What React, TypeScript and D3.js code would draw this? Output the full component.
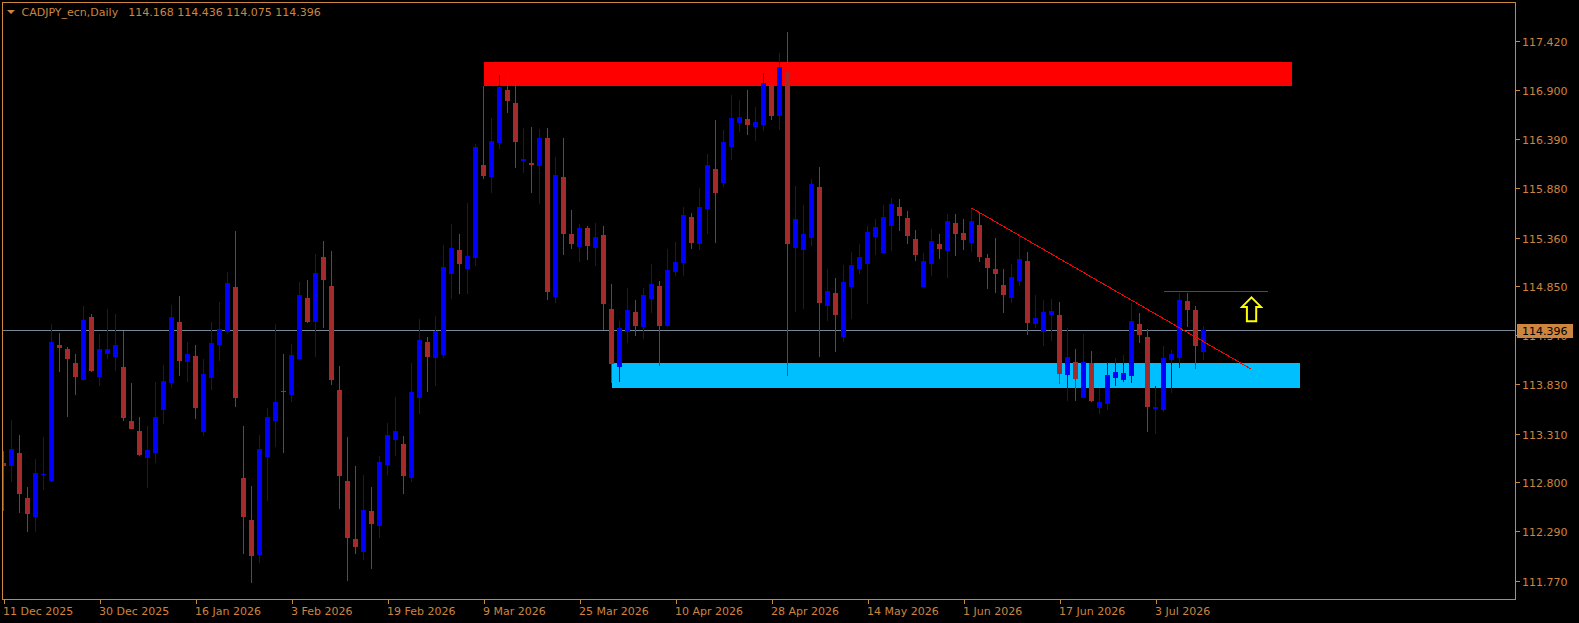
import React from "react";
import * as d3 from "d3";

// ---- data ----
const opens = [112.998,112.973,113.106,112.635,112.433,112.876,112.816,114.236,114.194,114.048,113.873,114.529,113.905,114.145,114.114,114.009,113.441,113.336,113.057,113.109,113.559,113.838,114.477,114.062,114.121,113.329,113.894,114.236,114.376,114.843,112.848,112.405,112.043,113.068,113.445,113.755,113.717,114.093,114.728,114.477,115.157,114.854,113.766,112.814,112.207,112.074,112.496,112.346,112.984,113.246,113.201,112.848,113.685,114.268,114.104,114.135,114.983,115.230,115.035,115.150,116.120,115.994,116.350,116.904,116.768,116.158,116.140,116.113,116.402,114.742,115.994,115.398,115.265,115.460,115.255,115.387,114.613,114.010,114.376,114.582,114.425,114.721,114.854,114.439,115.004,115.098,115.576,115.297,115.659,116.078,115.931,116.308,116.559,116.601,116.517,116.542,116.957,116.632,117.093,115.255,115.230,115.359,115.889,114.648,114.780,114.324,114.847,115.032,115.084,115.366,115.199,115.481,115.680,115.565,115.345,114.843,115.084,115.293,115.220,115.513,115.408,115.304,115.492,115.146,115.031,114.864,114.732,114.909,115.115,114.459,114.376,114.550,114.550,113.926,114.058,113.685,114.048,113.581,113.622,113.894,113.874,113.915,114.456,114.320,113.567,113.560,114.079,114.104,114.697,114.602,114.168];
const highs = [113.127,113.451,113.294,112.754,113.043,113.270,114.456,114.362,114.219,114.142,114.644,114.560,114.351,114.612,114.560,114.383,113.839,113.483,113.389,113.849,114.027,114.654,114.749,114.267,114.236,114.089,114.477,114.686,115.000,115.429,113.389,112.761,113.295,113.581,114.456,114.142,114.243,114.895,114.916,115.188,115.325,115.220,114.017,113.274,112.970,112.876,112.751,113.075,113.420,113.692,113.284,114.048,114.508,114.323,114.540,115.283,115.502,115.398,115.722,116.339,116.950,116.611,117.061,117.114,117.016,116.507,116.517,116.493,116.507,116.203,116.402,115.649,115.506,115.481,115.509,115.481,114.875,114.484,114.833,114.707,114.833,115.084,114.906,115.241,115.314,115.680,115.617,115.879,116.235,116.590,116.486,116.852,116.800,116.904,116.726,117.082,117.072,117.291,117.511,115.900,115.701,115.973,116.099,115.032,114.937,115.073,115.209,115.293,115.481,115.555,115.701,115.774,115.764,115.638,115.440,115.199,115.450,115.398,115.607,115.607,115.555,115.670,115.617,115.188,115.356,115.031,115.084,115.377,115.209,114.759,114.707,114.718,114.686,114.414,114.194,114.351,114.173,113.786,114.058,114.100,114.132,114.676,114.571,114.404,113.811,114.229,114.184,114.780,114.780,114.644,114.436];
const lows = [112.499,112.806,112.482,112.283,112.283,112.722,112.806,113.957,113.486,113.716,113.863,113.957,113.810,114.093,113.968,113.445,113.357,113.078,112.743,113.005,113.413,113.789,113.915,113.852,113.465,113.287,113.769,114.072,114.355,113.591,112.053,111.750,111.959,112.608,113.169,113.110,113.636,114.093,114.470,114.114,114.418,113.818,112.524,111.767,112.053,111.990,111.896,112.221,112.880,113.078,112.681,112.806,113.518,113.748,113.811,114.104,114.721,114.773,114.773,115.066,115.977,115.827,116.290,116.667,116.092,116.039,115.830,115.715,114.711,114.679,115.181,115.244,115.108,115.129,115.066,114.397,113.835,113.853,114.261,114.334,114.303,114.575,114.020,114.425,114.962,114.962,115.244,115.234,115.401,115.307,115.889,116.175,116.465,116.433,116.371,116.479,116.590,116.486,113.915,114.585,114.617,115.276,114.114,114.491,114.167,114.271,114.512,114.979,114.669,115.178,115.199,115.220,115.429,115.293,115.115,114.843,114.958,115.136,114.937,115.167,115.230,115.209,115.105,114.826,114.784,114.574,114.679,114.857,114.344,114.418,114.229,114.282,113.832,113.654,113.654,113.685,113.643,113.518,113.560,113.811,113.853,113.842,114.261,113.329,113.309,113.539,113.737,113.999,114.428,113.989,114.075];
const closes = [112.974,113.148,112.680,112.471,112.893,112.886,114.267,114.208,114.093,113.905,114.498,113.968,114.194,114.194,114.236,113.476,113.361,113.089,113.137,113.483,113.859,114.529,114.072,114.142,113.580,113.932,114.257,114.403,114.885,113.685,112.440,112.032,113.148,113.483,113.636,113.745,114.135,114.759,114.477,114.990,114.920,113.874,112.869,112.221,112.127,112.507,112.367,113.012,113.295,113.337,112.869,113.741,114.285,114.114,114.386,115.052,115.251,115.087,115.168,116.308,116.008,116.371,116.936,116.793,116.364,116.182,116.123,116.402,114.794,116.015,115.401,115.297,115.464,115.276,115.366,114.669,114.041,114.414,114.603,114.439,114.760,114.875,114.439,115.021,115.108,115.597,115.307,115.680,116.120,115.830,116.360,116.611,116.622,116.538,116.569,116.977,116.632,117.145,115.297,115.555,115.398,115.921,114.679,114.801,114.554,114.895,115.073,115.157,115.419,115.471,115.576,115.711,115.586,115.377,115.178,115.115,115.324,115.241,115.534,115.398,115.335,115.534,115.157,115.045,114.983,114.763,114.948,115.136,114.470,114.519,114.582,114.592,113.936,114.111,113.884,114.058,113.654,113.643,113.926,113.954,113.943,114.487,114.344,113.591,113.584,114.100,114.142,114.707,114.606,114.229,114.396];

const dateLabels = ["11 Dec 2025","30 Dec 2025","16 Jan 2026","3 Feb 2026","19 Feb 2026","9 Mar 2026","25 Mar 2026","10 Apr 2026","28 Apr 2026","14 May 2026","1 Jun 2026","17 Jun 2026","3 Jul 2026"];
const dateLabelIndex = [0,12,24,36,48,60,72,84,96,108,120,132,144];
const priceTicks = [117.42,116.9,116.39,115.88,115.36,114.85,114.34,113.83,113.31,112.8,112.29,111.77];

const symbolTitle = "CADJPY_ecn,Daily";
const lastBid = 114.396;

// annotations (bar index, price)
const resistanceZone = { from: 60, to: 161, top: 117.197, bottom: 116.948 };
const supportZone = { from: 76, to: 162, top: 114.048, bottom: 113.79 };
const trendLine = { i1: 121, p1: 115.67, i2: 156, p2: 113.982 };
const highLine = { i1: 145, i2: 158, price: 114.798 };
const arrowMark = { index: 156, price: 114.75 };

// ---- layout ----
const W = 1579, H = 623;
const left = 2.5, top = 2.5, right = 1515.5, bottom = 599.5;
const AX = "#cd853f";
const BULL = "#0000ff";
const BEAR = "#a52a2a";
const FONT = "'DejaVu Sans', Verdana, sans-serif";

export default function App() {
  const n = closes.length;
  const x = d3.scaleLinear().domain([0, n - 1]).range([3.5, 3.5 + 8 * (n - 1)]);
  const y = d3.scaleLinear().domain([111.77, 117.42]).range([580.7, 40.7]);
  const candles = d3.range(n).map((i) => ({ o: opens[i], h: highs[i], l: lows[i], c: closes[i], i }));
  const bidY = Math.round(y(lastBid)) + 0.5;

  const arrowPath = (() => {
    const ax = x(arrowMark.index), ay = y(arrowMark.price);
    const pts: [number, number][] = [
      [0, 1.5], [9.5, 11], [4.7, 11], [4.7, 25.3], [-4.6, 25.3], [-4.6, 11], [-9.5, 11],
    ];
    return d3.line()(pts.map(([dx, dy]) => [ax + dx, ay + dy] as [number, number]))! + "Z";
  })();

  return (
    <svg width={W} height={H} style={{ position: "absolute", left: 0, top: 0, background: "#000" }} fontFamily={FONT}>
      <rect x={0} y={0} width={W} height={H} fill="#000" />
      <defs>
        <clipPath id="plot">
          <rect x={left} y={top} width={right - left} height={bottom - top} />
        </clipPath>
      </defs>
      <g clipPath="url(#plot)">
        {/* zones */}
        <rect x={x(resistanceZone.from)} y={y(resistanceZone.top)} width={x(resistanceZone.to) - x(resistanceZone.from)}
          height={y(resistanceZone.bottom) - y(resistanceZone.top)} fill="#ff0000" shapeRendering="crispEdges" />
        <rect x={x(supportZone.from)} y={y(supportZone.top)} width={x(supportZone.to) - x(supportZone.from)}
          height={y(supportZone.bottom) - y(supportZone.top)} fill="#00bfff" shapeRendering="crispEdges" />
        {/* bid line */}
        <line x1={left} x2={right} y1={bidY} y2={bidY} stroke="#778899" strokeWidth={1} shapeRendering="crispEdges" />
        {/* candles */}
        {candles.map((d) => {
          const col = d.c >= d.o ? BULL : BEAR;
          const cx = x(d.i);
          const yt = y(Math.max(d.o, d.c));
          const yb = y(Math.min(d.o, d.c));
          return (
            <g key={d.i} shapeRendering="crispEdges">
              <line x1={cx} x2={cx} y1={y(d.h)} y2={y(d.l)} stroke={col} strokeWidth={1} />
              <rect x={cx - 2.5} y={yt} width={5} height={Math.max(1, yb - yt)} fill={col} />
            </g>
          );
        })}
        {/* trend line */}
        <line x1={x(trendLine.i1)} y1={y(trendLine.p1)} x2={x(trendLine.i2)} y2={y(trendLine.p2)}
          stroke="#ff0000" strokeWidth={1} shapeRendering="crispEdges" />
        {/* horizontal line */}
        <line x1={x(highLine.i1)} x2={x(highLine.i2)} y1={y(highLine.price)} y2={y(highLine.price)}
          stroke="#ff0000" strokeWidth={1} shapeRendering="crispEdges" />
        {/* arrow */}
        <path d={arrowPath} fill="none" stroke="#ffff00" strokeWidth={2} strokeLinejoin="miter" />
      </g>

      {/* frame */}
      <rect x={left} y={top} width={right - left} height={bottom - top} fill="none" stroke={AX} strokeWidth={1} shapeRendering="crispEdges" />

      {/* price axis */}
      {priceTicks.map((p) => {
        const ty = Math.round(y(p)) + 0.5;
        return (
          <g key={p}>
            <line x1={right} x2={right + 4} y1={ty} y2={ty} stroke={AX} shapeRendering="crispEdges" />
            <text x={1522} y={ty + 4} fill={AX} fontSize={11}>{p.toFixed(3)}</text>
          </g>
        );
      })}
      <rect x={1517} y={bidY - 7} width={56} height={14} fill={AX} shapeRendering="crispEdges" />
      <text x={1522} y={bidY + 4} fill="#000" fontSize={11}>{lastBid.toFixed(3)}</text>

      {/* time axis */}
      {dateLabels.map((lab, k) => {
        const tx = Math.round(x(dateLabelIndex[k])) + 0.5;
        return (
          <g key={lab}>
            <line x1={tx} x2={tx} y1={bottom} y2={bottom + 4} stroke={AX} shapeRendering="crispEdges" />
            <text x={tx - 1.5} y={615} fill={AX} fontSize={11}>{lab}</text>
          </g>
        );
      })}

      {/* header */}
      <path d="M7,10 L15,10 L11,14 Z" fill={AX} />
      <text x={21.5} y={15.8} fill={AX} fontSize={11}>{symbolTitle}</text>
      <text x={128.3} y={15.8} fill={AX} fontSize={11}>
        {[opens[n - 1], highs[n - 1], lows[n - 1], closes[n - 1]].map((v) => v.toFixed(3)).join(" ")}
      </text>
    </svg>
  );
}
